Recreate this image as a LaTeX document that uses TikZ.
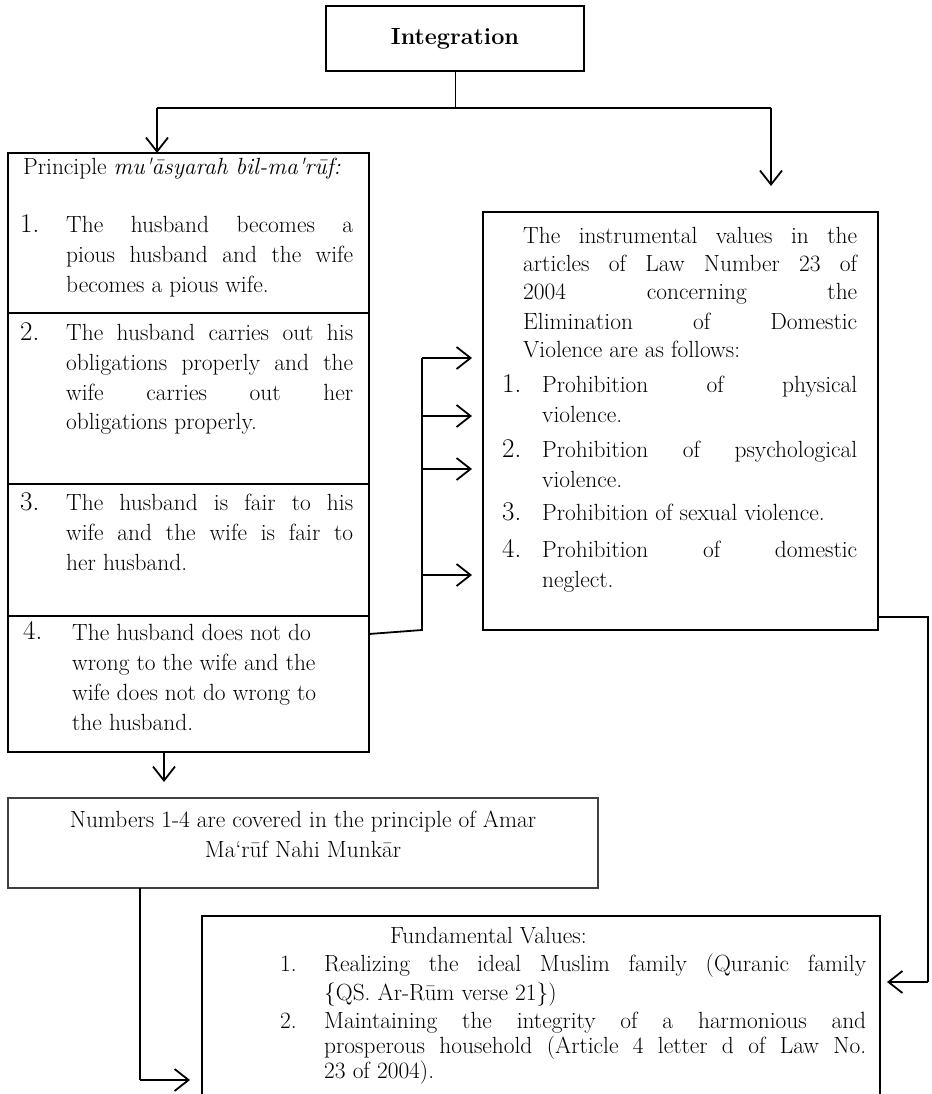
\documentclass[tikz,border=0pt]{standalone}
\usetikzlibrary{arrows.meta}
\newcommand\JL[2]{\makebox[#1][s]{#2}}
\begin{document}
\begin{tikzpicture}[x=1pt,y=-1pt,
  txt/.style={anchor=mid west, inner sep=0pt, font=\fontsize{23.4}{28}\selectfont},
  num/.style={anchor=mid west, inner sep=0pt, font=\fontsize{27}{30}\selectfont},
  thinbox/.style={draw, line width=1.4pt, inner sep=0pt, outer sep=0pt},
  grabox/.style={draw=black!75, line width=1.4pt, inner sep=0pt, outer sep=0pt},
  thickbox/.style={draw, line width=2.6pt, inner sep=0pt, outer sep=0pt},
  conn/.style={line width=1.8pt},
  connthin/.style={line width=1pt},
  arr/.style={line width=1.8pt, -{Straight Barb[length=14pt,width=22pt,line width=1.8pt]}}
]
\useasboundingbox (0,0) rectangle (931,1094);

% --- boxes ---
\node[thinbox, minimum width=258pt, minimum height=65pt,
      font=\fontsize{23.4}{28}\selectfont\bfseries] (integ) at (455,38.5) {Integration};

\node[thickbox, minimum width=361pt, minimum height=160pt] (lb1) at (188.5,233) {};
\node[thickbox, minimum width=361pt, minimum height=171pt] (lb2) at (188.5,398.5) {};
\node[thickbox, minimum width=361pt, minimum height=132pt] (lb3) at (188.5,550) {};
\node[thickbox, minimum width=361pt, minimum height=136pt] (lb4) at (188.5,684) {};

\node[thinbox, minimum width=395pt, minimum height=418pt] (rb) at (680.5,421) {};

\node[grabox, minimum width=590pt, minimum height=90pt] (nb) at (303,843) {};

\node[inner sep=0pt, outer sep=0pt, minimum width=678pt, minimum height=178pt] (fv) at (541,1005) {};
\draw[thinbox] (fv.south west) |- (fv.north east) -- (fv.south east);

% --- left box text ---
\node[txt] (t0) at (23,172) {Principle \textit{mu\textquotesingle āsyarah bil-ma\textquotesingle rūf:}};
\node[num] (n1) at (20,230) {1.};
\node[txt] at (66,230) {\JL{287pt}{The husband becomes a}};
\node[txt] at (66,260) {\JL{287pt}{pious husband and the wife}};
\node[txt] at (66,290) {becomes a pious wife.};
\node[num] (n2) at (20,338) {2.};
\node[txt] at (66,338) {\JL{287pt}{The husband carries out his}};
\node[txt] at (66,368) {\JL{287pt}{obligations properly and the}};
\node[txt] at (66,398) {\JL{287pt}{wife carries out her}};
\node[txt] at (66,427) {obligations properly.};
\node[num] (n3) at (20,508) {3.};
\node[txt] at (66,508) {\JL{287pt}{The husband is fair to his}};
\node[txt] at (66,538) {\JL{287pt}{wife and the wife is fair to}};
\node[txt] at (66,568) {her husband.};
\node[num] (n4) at (23,637) {4.};
\node[txt] at (72,638) {The husband does not do};
\node[txt] at (72,668) {wrong to the wife and the};
\node[txt] at (72,698) {wife does not do wrong to};
\node[txt] at (72,728) {the husband.};

% --- right box text ---
\node[txt] at (523,241) {\JL{334pt}{The instrumental values in the}};
\node[txt] at (523,269) {\JL{334pt}{articles of Law Number 23 of}};
\node[txt] at (523,297) {\JL{334pt}{2004 concerning the}};
\node[txt] at (523,327) {\JL{334pt}{Elimination of Domestic}};
\node[txt] at (523,355) {Violence are as follows:};
\node[num] at (502,390) {1.};
\node[txt] at (542,390) {\JL{315pt}{Prohibition of physical}};
\node[txt] at (542,420) {violence.};
\node[num] at (502,455) {2.};
\node[txt] at (542,455) {\JL{315pt}{Prohibition of psychological}};
\node[txt] at (542,485) {violence.};
\node[num] at (502,518) {3.};
\node[txt] at (542,518) {Prohibition of sexual violence.};
\node[num] at (502,555) {4.};
\node[txt] at (542,555) {\JL{315pt}{Prohibition of domestic}};
\node[txt] at (542,585) {neglect.};

% --- numbers box text ---
\node[txt, anchor=mid] at (nb.center |- 0,825) {Numbers 1-4 are covered in the principle of Amar};
\node[txt, anchor=mid] at (nb.center |- 0,855) {Ma`rūf Nahi Munkār};

% --- fundamental values text ---
\node[txt] at (390,941) {Fundamental Values:};
\node[txt] at (280,969) {1.};
\node[txt] at (324,969) {\JL{542pt}{Realizing the ideal Muslim family (Quranic family}};
\node[txt] at (324,998) {\{QS. Ar-Rūm verse 21\})};
\node[txt] at (280,1026) {2.};
\node[txt] at (324,1026) {\JL{542pt}{Maintaining the integrity of a harmonious and}};
\node[txt] at (324,1051) {\JL{542pt}{prosperous household (Article 4 letter d of Law No.}};
\node[txt] at (324,1076) {23 of 2004).};

% --- connectors ---
\coordinate (hl) at (455,108);
\coordinate (hlL) at (157,108);
\coordinate (hlR) at (771,108);
\coordinate (rtip) at (771,186);
\draw[connthin] (integ.south) -- (hl);
\draw[conn] (hlL) -- (hlR);
\draw[arr] (hlL) -- (hlL |- lb1.north);
\draw[arr] (hlR) -- (rtip);

% bracket from box 4 to right box
\coordinate (bt) at (422,358);
\coordinate (bb) at (422,630);
\draw[conn] (lb4.east |- 0,634) -- (bb) -- (bt);
\foreach \yy in {358,416,469,575}
  \draw[arr] (422,\yy) -- (472,\yy);

% box 4 down to numbers box
\draw[arr] (164,752) -- (164,782);

% right box to fundamental values
\coordinate (rc1) at (928,617);
\coordinate (rc2) at (928,982);
\draw[conn] (rb.east |- rc1) -- (rc1) -- (rc2);
\draw[arr] (rc2) -- (887,982);

% numbers box to fundamental values
\coordinate (lc1) at (140,1080);
\draw[conn] (nb.south -| lc1) -- (lc1);
\draw[arr] (lc1) -- (190,1080);
\end{tikzpicture}
\end{document}
